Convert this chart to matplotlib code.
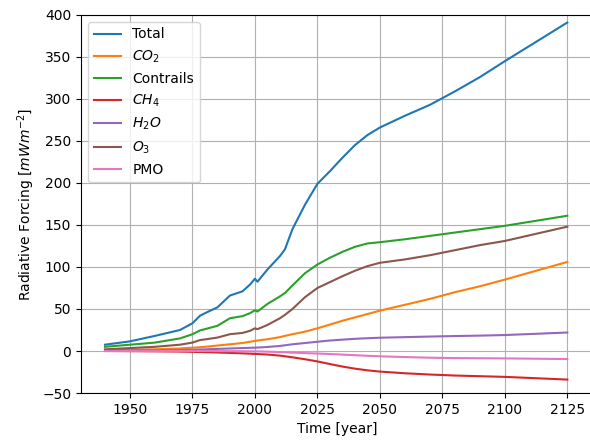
import matplotlib
matplotlib.use("Agg")
import matplotlib.pyplot as plt
import numpy as np

plt.rcParams["savefig.bbox"] = "standard"

# radiative forcing from aviation by component, mW/m^2
years = [1940, 1950, 1960, 1970, 1975, 1978, 1980, 1985, 1990, 1995, 1998,
         2000, 2001, 2005, 2010, 2012, 2015, 2020, 2025, 2030, 2035, 2040,
         2045, 2050, 2060, 2070, 2080, 2090, 2100, 2125]

total = [7.5, 11.5, 18, 25, 33, 42, 45, 52, 66, 71, 79,
         86, 82.5, 97, 113, 121, 145, 174, 199, 214, 230, 245,
         257, 266, 280, 293, 309, 326, 345, 391]
co2 = [1, 1.5, 2, 3, 4, 4.5, 5, 6.5, 8, 9.5, 11,
       12, 12.5, 14, 16.5, 18, 20, 23, 27, 31.5, 36, 40,
       44, 48, 55, 62, 70, 77, 85, 106]
contrails = [5, 7.5, 10, 15, 20, 24.5, 26, 30, 39, 41.5, 45,
             48.5, 47, 56, 65, 69, 78, 92.5, 103, 111, 118, 124,
             128, 129.5, 133, 137, 141, 145, 149, 161]
ch4 = [0, -0.2, -0.4, -0.7, -1, -1.2, -1.4, -1.8, -2.3, -2.8, -3.2,
       -3.5, -3.6, -4.2, -5.5, -6.3, -7.5, -9.8, -12.4, -15.5, -18.5, -21,
       -23, -24.5, -26.5, -28, -29.2, -30, -30.8, -34]
h2o = [0.5, 0.7, 0.9, 1.2, 1.5, 1.8, 2, 2.5, 3, 3.5, 3.8,
       4, 4.1, 4.8, 6, 6.8, 8, 9.5, 11, 12.5, 13.5, 14.5,
       15.2, 15.8, 16.5, 17.2, 17.8, 18.3, 19, 22]
o3 = [2, 3.5, 5, 7.5, 10, 13, 13.8, 16, 20, 21.5, 24,
      27, 26, 31, 39, 43, 50, 64, 75, 82, 89, 95.5,
      101, 105, 109, 114, 120, 126, 131, 148]
pmo = [0, 0, 0, 0, 0, 0, 0, -0.1, -0.2, -0.3, -0.4,
       -0.5, -0.5, -0.8, -1.3, -1.5, -2, -2.5, -3, -3.6, -4.3, -5,
       -5.7, -6.3, -7.2, -8, -8.4, -8.6, -8.8, -9.6]

fig = plt.figure(figsize=(5.9, 4.4), dpi=100)
# axes run slightly past the right edge of the figure
ax = fig.add_axes([0.1373, 0.1068, 0.87, 0.8592])

ax.plot(years, total, label="Total")
ax.plot(years, co2, label="$CO_2$")
ax.plot(years, contrails, label="Contrails")
ax.plot(years, ch4, label="$CH_4$")
ax.plot(years, h2o, label="$H_2O$")
ax.plot(years, o3, label="$O_3$")
ax.plot(years, pmo, label="PMO")

ax.set_xlim(1930.4, 2135.8)
ax.set_ylim(-50, 400)
ax.set_xticks([1950, 1975, 2000, 2025, 2050, 2075, 2100, 2125])
ax.set_xlabel("Time [year]")
ax.set_ylabel("Radiative Forcing [$mWm^{-2}$]")
ax.grid(True)
ax.legend(loc="upper left")

fig.savefig("out.png", dpi=100)
